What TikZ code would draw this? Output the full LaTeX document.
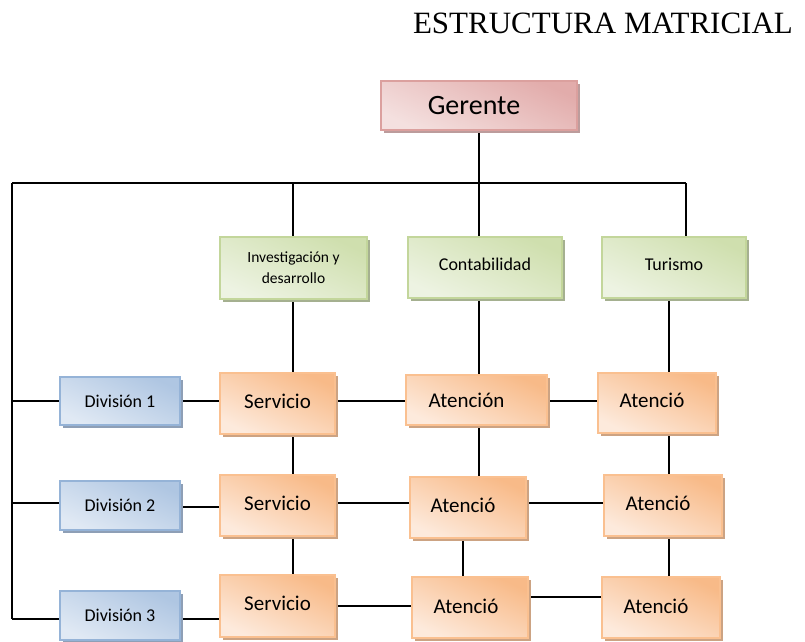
\documentclass[tikz,border=0pt]{standalone}
\usepackage{fontspec}
\setmainfont{Carlito}
\newfontfamily\titlefont{Liberation Serif}
\usetikzlibrary{shadows}
\pgfdeclarelayer{background}
\pgfsetlayers{background,main}
\definecolor{pkB}{HTML}{DBA09E}\definecolor{pkD}{HTML}{E2ACAB}\definecolor{pkL}{HTML}{F4E0DF}\definecolor{pkS}{HTML}{BC9C9C}
\definecolor{grB}{HTML}{C3D69B}\definecolor{grD}{HTML}{CFDFAE}\definecolor{grL}{HTML}{EDF3E2}\definecolor{grS}{HTML}{A5B090}
\definecolor{blB}{HTML}{95B3D7}\definecolor{blD}{HTML}{AFC6E2}\definecolor{blL}{HTML}{E0E9F4}\definecolor{blS}{HTML}{8E9FB6}
\definecolor{orB}{HTML}{FAC090}\definecolor{orD}{HTML}{F8BA88}\definecolor{orL}{HTML}{FDEADC}\definecolor{orS}{HTML}{CCA383}
\tikzset{
  box/.style={draw, line width=1.4pt, inner sep=0pt, align=center},
  pinkbox/.style={box, draw=pkB, top color=pkD, bottom color=pkL, shading angle=-25,
    drop shadow={shadow xshift=3pt, shadow yshift=-3pt, fill=pkS, opacity=1}},
  greenbox/.style={box, draw=grB, top color=grD, bottom color=grL, shading angle=-25,
    drop shadow={shadow xshift=3pt, shadow yshift=-3pt, fill=grS, opacity=1}},
  bluebox/.style={box, draw=blB, top color=blD, bottom color=blL, shading angle=-25,
    drop shadow={shadow xshift=3pt, shadow yshift=-3pt, fill=blS, opacity=1}},
  orangebox/.style={box, draw=orB, top color=orD, bottom color=orL, shading angle=-25,
    drop shadow={shadow xshift=3pt, shadow yshift=-3pt, fill=orS, opacity=1}},
  conn/.style={draw=black, line width=1.3pt},
}
\newcommand{\bx}[2]{\fontsize{#1}{#1}\selectfont #2}
\begin{document}
\begin{tikzpicture}[x=1pt,y=-1pt]
\useasboundingbox (0,0) rectangle (805,641);
% title
\node[anchor=base east, inner sep=0pt, font=\titlefont\fontsize{31}{31}\selectfont] (title) at (793,33) {ESTRUCTURA MATRICIAL};
% boxes
\node[pinkbox, minimum width=196pt, minimum height=49pt] (ger) at (479,105.5) {\bx{28}{\hspace*{-10pt}Gerente}};
\node[greenbox, minimum width=147pt, minimum height=62pt, font=\fontsize{15.5}{21}\selectfont] (g1) at (293.5,268) {Investigación y\\ desarrollo};
\node[greenbox, minimum width=154pt, minimum height=61pt] (g2) at (485,267.5) {\raisebox{6pt}{\bx{18}{Contabilidad}}};
\node[greenbox, minimum width=144pt, minimum height=61pt] (g3) at (674,267.5) {\raisebox{7pt}{\bx{18}{Turismo}}};
\node[bluebox, minimum width=120pt, minimum height=48pt] (d1) at (120,401) {\bx{18}{División 1}};
\node[bluebox, minimum width=120pt, minimum height=49pt] (d2) at (120,505.5) {\bx{18}{División 2}};
\node[bluebox, minimum width=120pt, minimum height=49pt] (d3) at (120,615.5) {\bx{18}{División 3}};
\node[orangebox, minimum width=115pt, minimum height=61pt] (s1) at (277.5,403.5) {\raisebox{5pt}{\bx{21}{Servicio}}};
\node[orangebox, minimum width=115pt, minimum height=61pt] (s2) at (277.5,505.5) {\raisebox{5pt}{\bx{21}{Servicio}}};
\node[orangebox, minimum width=115pt, minimum height=62pt] (s3) at (277.5,606) {\raisebox{5pt}{\bx{21}{Servicio}}};
\node[orangebox, minimum width=141pt, minimum height=50pt] (a11) at (476.5,400) {\hspace*{-20pt}\bx{21}{Atención}};
\node[orangebox, minimum width=116pt, minimum height=61pt] (a21) at (468,507.5) {\raisebox{4pt}{\hspace*{-10pt}\bx{21}{Atenció}}};
\node[orangebox, minimum width=116pt, minimum height=61pt] (a31) at (470,607.5) {\raisebox{3pt}{\hspace*{-8pt}\bx{21}{Atenció}}};
\node[orangebox, minimum width=118pt, minimum height=60pt] (a12) at (657,403) {\raisebox{5pt}{\hspace*{-10pt}\bx{21}{Atenció}}};
\node[orangebox, minimum width=118pt, minimum height=61pt] (a22) at (663,505.5) {\raisebox{5pt}{\hspace*{-10pt}\bx{21}{Atenció}}};
\node[orangebox, minimum width=118pt, minimum height=61pt] (a32) at (661,607.5) {\raisebox{3pt}{\hspace*{-10pt}\bx{21}{Atenció}}};
% helper coordinates
\coordinate (busL) at (12,183);
\coordinate (busR) at (686,183);
\coordinate (xa) at (293,0);
\coordinate (xb) at (479,0);
\coordinate (xc) at (669,0);
\coordinate (xd) at (463,0);
\coordinate (r1) at (0,401);
\coordinate (r2) at (0,503);
\coordinate (r2b) at (0,507);
\coordinate (r3) at (0,619);
\coordinate (r3b) at (0,606);
\coordinate (r3c) at (0,597);
\coordinate (leftB) at (12,619);
\begin{pgfonlayer}{background}
% top structure
\draw[conn] (ger.south -| xb) -- (busL -| xb);
\draw[conn] (busL) -- (busR);
\draw[conn] (busL) -- (leftB);
\draw[conn] (busL -| xa) -- (g1.north -| xa);
\draw[conn] (busL -| xb) -- (g2.north -| xb);
\draw[conn] (busR) -- (g3.north -| busR);
\draw[conn] (g1.south -| xa) -- (s1.north -| xa);
\draw[conn] (g2.south -| xb) -- (a11.north -| xb);
\draw[conn] (g3.south -| xc) -- (a12.north -| xc);
% row 1
\draw[conn] (busL |- r1) -- (d1.west |- r1);
\draw[conn] (d1.east |- r1) -- (s1.west |- r1);
\draw[conn] (s1.east |- r1) -- (a11.west |- r1);
\draw[conn] (a11.east |- r1) -- (a12.west |- r1);
% row 2
\draw[conn] (busL |- r2) -- (d2.west |- r2);
\draw[conn] (d2.east |- r2b) -- (s2.west |- r2b);
\draw[conn] (s2.east |- r2) -- (a21.west |- r2);
\draw[conn] (a21.east |- r2) -- (a22.west |- r2);
% row 3
\draw[conn] (leftB) -- (d3.west |- r3);
\draw[conn] (d3.east |- r3) -- (s3.west |- r3);
\draw[conn] (s3.east |- r3b) -- (a31.west |- r3b);
\draw[conn] (a31.east |- r3c) -- (a32.west |- r3c);
% verticals
\draw[conn] (s1.south -| xa) -- (s2.north -| xa);
\draw[conn] (s2.south -| xa) -- (s3.north -| xa);
\draw[conn] (a11.south -| xb) -- (a21.north -| xb);
\draw[conn] (a21.south -| xd) -- (a31.north -| xd);
\draw[conn] (a12.south -| xc) -- (a22.north -| xc);
\draw[conn] (a22.south -| xc) -- (a32.north -| xc);
\end{pgfonlayer}
\end{tikzpicture}
\end{document}
